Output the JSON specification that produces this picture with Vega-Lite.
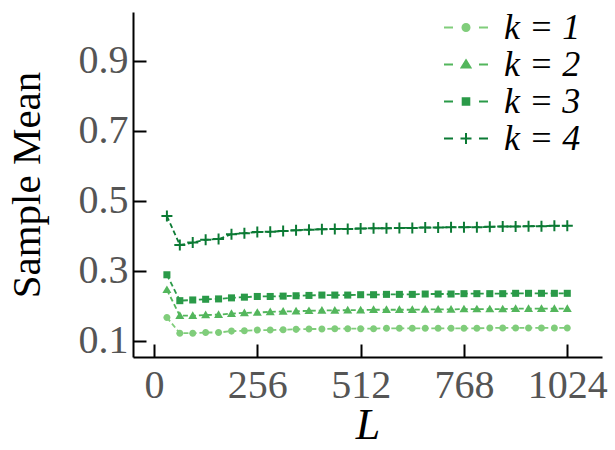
{
  "$schema": "https://vega.github.io/schema/vega-lite/v6.json",
  "width": 469,
  "height": 345,
  "autosize": {"type": "none"},
  "padding": {"left": 133, "top": 12, "right": 13, "bottom": 93},
  "background": "white",
  "config": {
    "view": {"stroke": null},
    "font": "Liberation Serif",
    "axis": {
      "grid": false,
      "domainColor": "#000000",
      "domainWidth": 2,
      "tickColor": "#000000",
      "tickWidth": 2,
      "tickSize": -13,
      "labelFont": "Liberation Serif",
      "labelFontSize": 40,
      "labelColor": "#555555",
      "titleFont": "Liberation Serif",
      "titleColor": "#000000",
      "titleFontWeight": "normal"
    }
  },
  "data": {
    "values": [
      {"L": 32, "k": "1", "mean": 0.167}, {"L": 64, "k": "1", "mean": 0.122}, {"L": 96, "k": "1", "mean": 0.122}, {"L": 128, "k": "1", "mean": 0.124},
      {"L": 160, "k": "1", "mean": 0.124}, {"L": 192, "k": "1", "mean": 0.128}, {"L": 224, "k": "1", "mean": 0.129}, {"L": 256, "k": "1", "mean": 0.131},
      {"L": 288, "k": "1", "mean": 0.131}, {"L": 320, "k": "1", "mean": 0.132}, {"L": 352, "k": "1", "mean": 0.133}, {"L": 384, "k": "1", "mean": 0.134},
      {"L": 416, "k": "1", "mean": 0.134}, {"L": 448, "k": "1", "mean": 0.135}, {"L": 480, "k": "1", "mean": 0.135}, {"L": 512, "k": "1", "mean": 0.135},
      {"L": 544, "k": "1", "mean": 0.135}, {"L": 576, "k": "1", "mean": 0.136}, {"L": 608, "k": "1", "mean": 0.136}, {"L": 640, "k": "1", "mean": 0.136},
      {"L": 672, "k": "1", "mean": 0.136}, {"L": 704, "k": "1", "mean": 0.136}, {"L": 736, "k": "1", "mean": 0.136}, {"L": 768, "k": "1", "mean": 0.136},
      {"L": 800, "k": "1", "mean": 0.136}, {"L": 832, "k": "1", "mean": 0.137}, {"L": 864, "k": "1", "mean": 0.137}, {"L": 896, "k": "1", "mean": 0.137},
      {"L": 928, "k": "1", "mean": 0.137}, {"L": 960, "k": "1", "mean": 0.137}, {"L": 992, "k": "1", "mean": 0.137}, {"L": 1024, "k": "1", "mean": 0.137},

      {"L": 32, "k": "2", "mean": 0.246}, {"L": 64, "k": "2", "mean": 0.172}, {"L": 96, "k": "2", "mean": 0.172}, {"L": 128, "k": "2", "mean": 0.174},
      {"L": 160, "k": "2", "mean": 0.175}, {"L": 192, "k": "2", "mean": 0.178}, {"L": 224, "k": "2", "mean": 0.180}, {"L": 256, "k": "2", "mean": 0.181},
      {"L": 288, "k": "2", "mean": 0.183}, {"L": 320, "k": "2", "mean": 0.184}, {"L": 352, "k": "2", "mean": 0.185}, {"L": 384, "k": "2", "mean": 0.186},
      {"L": 416, "k": "2", "mean": 0.187}, {"L": 448, "k": "2", "mean": 0.187}, {"L": 480, "k": "2", "mean": 0.188}, {"L": 512, "k": "2", "mean": 0.188},
      {"L": 544, "k": "2", "mean": 0.189}, {"L": 576, "k": "2", "mean": 0.189}, {"L": 608, "k": "2", "mean": 0.189}, {"L": 640, "k": "2", "mean": 0.189},
      {"L": 672, "k": "2", "mean": 0.190}, {"L": 704, "k": "2", "mean": 0.190}, {"L": 736, "k": "2", "mean": 0.190}, {"L": 768, "k": "2", "mean": 0.191},
      {"L": 800, "k": "2", "mean": 0.191}, {"L": 832, "k": "2", "mean": 0.191}, {"L": 864, "k": "2", "mean": 0.191}, {"L": 896, "k": "2", "mean": 0.192},
      {"L": 928, "k": "2", "mean": 0.192}, {"L": 960, "k": "2", "mean": 0.192}, {"L": 992, "k": "2", "mean": 0.192}, {"L": 1024, "k": "2", "mean": 0.192},

      {"L": 32, "k": "3", "mean": 0.289}, {"L": 64, "k": "3", "mean": 0.215}, {"L": 96, "k": "3", "mean": 0.217}, {"L": 128, "k": "3", "mean": 0.219},
      {"L": 160, "k": "3", "mean": 0.220}, {"L": 192, "k": "3", "mean": 0.223}, {"L": 224, "k": "3", "mean": 0.225}, {"L": 256, "k": "3", "mean": 0.227},
      {"L": 288, "k": "3", "mean": 0.227}, {"L": 320, "k": "3", "mean": 0.228}, {"L": 352, "k": "3", "mean": 0.229}, {"L": 384, "k": "3", "mean": 0.230},
      {"L": 416, "k": "3", "mean": 0.231}, {"L": 448, "k": "3", "mean": 0.231}, {"L": 480, "k": "3", "mean": 0.231}, {"L": 512, "k": "3", "mean": 0.232},
      {"L": 544, "k": "3", "mean": 0.232}, {"L": 576, "k": "3", "mean": 0.233}, {"L": 608, "k": "3", "mean": 0.233}, {"L": 640, "k": "3", "mean": 0.233},
      {"L": 672, "k": "3", "mean": 0.234}, {"L": 704, "k": "3", "mean": 0.234}, {"L": 736, "k": "3", "mean": 0.234}, {"L": 768, "k": "3", "mean": 0.235},
      {"L": 800, "k": "3", "mean": 0.235}, {"L": 832, "k": "3", "mean": 0.235}, {"L": 864, "k": "3", "mean": 0.235}, {"L": 896, "k": "3", "mean": 0.236},
      {"L": 928, "k": "3", "mean": 0.236}, {"L": 960, "k": "3", "mean": 0.236}, {"L": 992, "k": "3", "mean": 0.236}, {"L": 1024, "k": "3", "mean": 0.236},

      {"L": 32, "k": "4", "mean": 0.457}, {"L": 64, "k": "4", "mean": 0.374}, {"L": 96, "k": "4", "mean": 0.381}, {"L": 128, "k": "4", "mean": 0.389},
      {"L": 160, "k": "4", "mean": 0.391}, {"L": 192, "k": "4", "mean": 0.405}, {"L": 224, "k": "4", "mean": 0.408}, {"L": 256, "k": "4", "mean": 0.411},
      {"L": 288, "k": "4", "mean": 0.412}, {"L": 320, "k": "4", "mean": 0.414}, {"L": 352, "k": "4", "mean": 0.416}, {"L": 384, "k": "4", "mean": 0.418},
      {"L": 416, "k": "4", "mean": 0.419}, {"L": 448, "k": "4", "mean": 0.420}, {"L": 480, "k": "4", "mean": 0.420}, {"L": 512, "k": "4", "mean": 0.421},
      {"L": 544, "k": "4", "mean": 0.422}, {"L": 576, "k": "4", "mean": 0.422}, {"L": 608, "k": "4", "mean": 0.423}, {"L": 640, "k": "4", "mean": 0.423},
      {"L": 672, "k": "4", "mean": 0.424}, {"L": 704, "k": "4", "mean": 0.424}, {"L": 736, "k": "4", "mean": 0.425}, {"L": 768, "k": "4", "mean": 0.425},
      {"L": 800, "k": "4", "mean": 0.425}, {"L": 832, "k": "4", "mean": 0.426}, {"L": 864, "k": "4", "mean": 0.427}, {"L": 896, "k": "4", "mean": 0.427},
      {"L": 928, "k": "4", "mean": 0.428}, {"L": 960, "k": "4", "mean": 0.428}, {"L": 992, "k": "4", "mean": 0.429}, {"L": 1024, "k": "4", "mean": 0.429}
    ]
  },
  "encoding": {
    "x": {
      "field": "L",
      "type": "quantitative",
      "scale": {"domain": [-52, 1110], "nice": false, "zero": false},
      "axis": {
        "values": [0, 256, 512, 768, 1024],
        "format": "d",
        "labelPadding": 21,
        "labelFlush": false,
        "title": "L",
        "titleFontSize": 44,
        "titleFontStyle": "italic",
        "titlePadding": -2
      }
    },
    "y": {
      "field": "mean",
      "type": "quantitative",
      "scale": {"domain": [0.054, 1.04], "nice": false, "zero": false},
      "axis": {
        "values": [0.1, 0.3, 0.5, 0.7, 0.9],
        "format": ".1f",
        "labelPadding": 18,
        "title": "Sample Mean",
        "titleFontSize": 41,
        "titlePadding": 30
      }
    },
    "color": {
      "field": "k",
      "type": "nominal",
      "scale": {"domain": ["1", "2", "3", "4"], "range": ["#80cd7b", "#53b65c", "#2a9a48", "#0b7a34"]},
      "legend": {
        "title": null,
        "orient": "none",
        "legendX": 310,
        "legendY": -2,
        "padding": 0,
        "labelExpr": "'k = ' + datum.label",
        "labelFont": "Liberation Serif",
        "labelFontSize": 36,
        "labelFontStyle": "italic",
        "labelColor": "#000000",
        "labelOffset": 15,
        "symbolSize": 1936,
        "symbolStrokeWidth": 2,
        "rowPadding": 0,
        "clipHeight": 35,
        "encode": {
          "symbols": {
            "update": {
              "shape": {"signal": "datum.value == '1' ? 'M-1,0H-0.59M0.59,0H1M-0.16,0A0.16,0.16,0,1,1,0.16,0A0.16,0.16,0,1,1,-0.16,0Z' : datum.value == '2' ? 'M-1,0H-0.59M0.59,0H1M0,-0.19L0.2,0.14L-0.2,0.14Z' : datum.value == '3' ? 'M-1,0H-0.59M0.59,0H1M-0.15,-0.15H0.15V0.15H-0.15Z' : 'M-1,0H-0.59M0.59,0H1M-0.25,0H0.25M0,-0.25V0.25'"},
              "fill": {"signal": "scale('color', datum.value)"},
              "stroke": {"signal": "scale('color', datum.value)"},
              "strokeWidth": {"value": 2},
              "opacity": {"value": 1}
            }
          }
        }
      }
    }
  },
  "layer": [
    {
      "mark": {"type": "line", "strokeDash": [5, 3], "strokeWidth": 1.8}
    },
    {
      "transform": [{"filter": "datum.k == '1'"}],
      "mark": {"type": "point", "filled": true, "opacity": 1, "size": 121,
               "shape": "M-0.64,0A0.64,0.64,0,1,1,0.64,0A0.64,0.64,0,1,1,-0.64,0Z"}
    },
    {
      "transform": [{"filter": "datum.k == '2'"}],
      "mark": {"type": "point", "filled": true, "opacity": 1, "size": 121,
               "shape": "M0,-0.8L0.82,0.6L-0.82,0.6Z"}
    },
    {
      "transform": [{"filter": "datum.k == '3'"}],
      "mark": {"type": "point", "filled": true, "opacity": 1, "size": 121,
               "shape": "M-0.64,-0.64H0.64V0.64H-0.64Z"}
    },
    {
      "transform": [{"filter": "datum.k == '4'"}],
      "mark": {"type": "point", "filled": true, "opacity": 1, "size": 121,
               "shape": "M-1,-0.18H-0.18V-1H0.18V-0.18H1V0.18H0.18V1H-0.18V0.18H-1Z"}
    }
  ]
}
